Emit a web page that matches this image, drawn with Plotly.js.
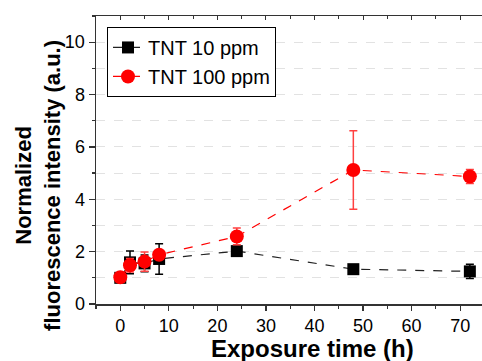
<!DOCTYPE html>
<html>
<head>
<meta charset="utf-8">
<script src="https://cdn.plot.ly/plotly-3.0.1.min.js"></script>
<style>html,body{margin:0;padding:0;background:#fff;overflow:hidden;}#chart{width:482px;height:361px;}</style>
</head>
<body>
<div id="chart"></div>
<script>
// Data
const timeH = [0, 2, 5, 8, 24, 48, 72];
const tnt10 = [1.00, 1.59, 1.55, 1.72, 2.02, 1.33, 1.245];
const tnt10Err = [0.05, 0.43, 0.32, 0.58, 0.08, 0.06, 0.27];
const tnt100 = [1.02, 1.48, 1.62, 1.88, 2.58, 5.12, 4.87];
const tnt100Err = [0.08, 0.26, 0.37, 0.10, 0.32, 1.50, 0.27];
const seriesNames = ['TNT 10 ppm', 'TNT 100 ppm'];
const xTicks = [0, 10, 20, 30, 40, 50, 60, 70];
const yTicks = [0, 2, 4, 6, 8, 10];

const FONT = 'Liberation Sans, Arial, sans-serif';

const traces = [
  {
    x: timeH, y: tnt10, name: seriesNames[0], type: 'scatter', mode: 'lines+markers',
    line: {color: '#222222', width: 1.2, dash: 'dash'},
    marker: {symbol: 'square', size: 12, color: '#000000'},
    error_y: {type: 'data', array: tnt10Err, visible: true, color: '#000000', thickness: 1.5, width: 4}
  },
  {
    x: timeH, y: tnt100, name: seriesNames[1], type: 'scatter', mode: 'lines+markers',
    line: {color: '#ff0000', width: 1.2, dash: 'dash'},
    marker: {symbol: 'circle', size: 14, color: '#ff0000'},
    error_y: {type: 'data', array: tnt100Err, visible: true, color: '#ff4040', thickness: 1.5, width: 4}
  },
  {
    x: [], y: [], xaxis: 'x2', showlegend: false, type: 'scatter', hoverinfo: 'skip'
  }
];

const layout = {
  width: 482, height: 361,
  margin: {l: 96, r: 0, t: 16, b: 57},
  paper_bgcolor: '#ffffff', plot_bgcolor: '#ffffff',
  font: {family: FONT, color: '#000000', size: 18},
  showlegend: true,
  legend: {
    x: 0.0285, y: 0.962, xanchor: 'left', yanchor: 'top',
    bgcolor: '#ffffff', bordercolor: '#000000', borderwidth: 1,
    font: {family: FONT, size: 20, color: '#000000'},
    tracegroupgap: 0
  },
  xaxis: {
    range: [-5, 74.5], tickvals: xTicks, ticks: 'outside', ticklen: 5, tickwidth: 1.2,
    tickcolor: '#333333', showline: true, linecolor: '#333333', linewidth: 1.5,
    showgrid: false, zeroline: false, tickfont: {family: FONT, size: 18, color: '#000000'},
    minor: {dtick: 5, tick0: 0, ticks: 'outside', ticklen: 3, tickcolor: '#333333', showgrid: false}
  },
  xaxis2: {
    overlaying: 'x', matches: 'x', side: 'top', range: [-5, 74.5], tickvals: xTicks,
    ticks: 'inside', ticklen: 4, tickcolor: '#333333', showticklabels: false,
    showline: true, linecolor: '#333333', linewidth: 1.5, showgrid: false, zeroline: false,
    minor: {dtick: 5, tick0: 0, ticks: 'inside', ticklen: 3, tickcolor: '#333333', showgrid: false}
  },
  yaxis: {
    range: [0, 11], tickvals: yTicks, ticks: 'outside', ticklen: 6, tickwidth: 1.2,
    tickcolor: '#333333', showline: true, linecolor: '#333333', linewidth: 1.5,
    showgrid: true, gridcolor: '#e2e2e2', griddash: 'dash', gridwidth: 1,
    zeroline: false, tickfont: {family: FONT, size: 18, color: '#000000'},
    minor: {dtick: 1, tick0: 0, ticks: 'outside', ticklen: 3, tickcolor: '#333333',
            showgrid: true, gridcolor: '#e2e2e2', griddash: 'dash', gridwidth: 1}
  },
  annotations: [
    {
      text: '<b>Exposure time (h)</b>', xref: 'paper', yref: 'paper',
      x: 0.5596, y: -0.156, xanchor: 'center', yanchor: 'middle', showarrow: false,
      font: {family: FONT, size: 24, color: '#000000'}
    },
    {
      text: '<b>Normalized<br>fluorescence intensity (a.u.)</b>', xref: 'paper', yref: 'paper',
      x: 0, y: 0.41, xshift: -58, xanchor: 'center', yanchor: 'middle', showarrow: false,
      textangle: -90, font: {family: FONT, size: 22, color: '#000000'}
    }
  ]
};

Plotly.newPlot('chart', traces, layout, {displayModeBar: false, staticPlot: true});
</script>
</body>
</html>
